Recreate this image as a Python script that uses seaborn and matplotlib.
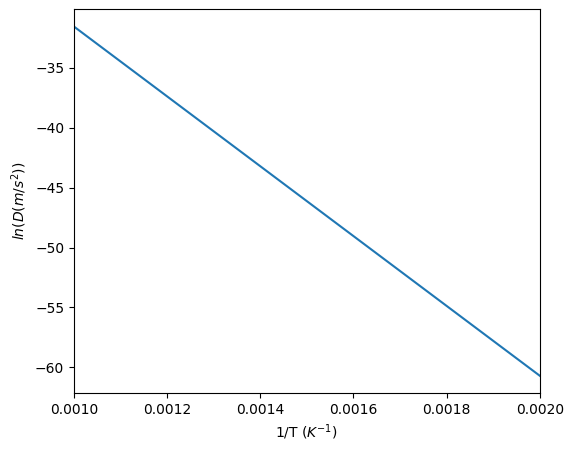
import pandas as pd
import matplotlib
matplotlib.use("Agg")
import matplotlib.pyplot as plt
import seaborn as sns

# Arrhenius line
inv_T = [0.0010, 0.0020]
ln_D = [-31.55, -60.7]

df = pd.DataFrame({"inv_T": inv_T, "ln_D": ln_D})

fig, ax = plt.subplots(figsize=(5.73, 4.53), dpi=100)
fig.subplots_adjust(left=0.129, right=0.942, top=0.980, bottom=0.132)

sns.lineplot(x="inv_T", y="ln_D", data=df, ax=ax, color="#1f77b4")
ax.set_xlim(0.0010, 0.0020)
ax.set_xlabel(r"1/T ($K^{-1}$)")
ax.set_ylabel(r"$ln(D(m/s^2))$")

fig.savefig("out.png", dpi=100)
